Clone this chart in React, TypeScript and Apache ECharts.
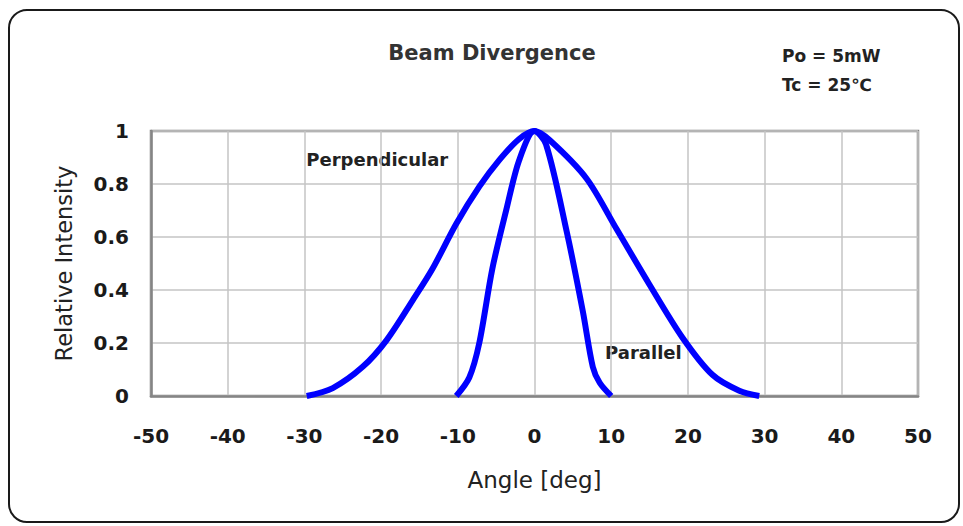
import React, { useEffect, useRef } from "react";
import * as echarts from "echarts";

const xTicks = { min: -50, max: 50, interval: 10 };
const yTicks = { min: 0, max: 1, interval: 0.2 };

const perpendicular: [number, number][] = [
  [-29.7, 0], [-26.3, 0.03], [-22.4, 0.11], [-19.3, 0.21], [-15.9, 0.36],
  [-13.3, 0.48], [-10.2, 0.65], [-7.2, 0.79], [-4.6, 0.89], [-2, 0.97],
  [0, 1], [2, 0.965], [6.8, 0.82], [10.7, 0.63], [15, 0.42], [19.3, 0.22],
  [23.2, 0.08], [26.7, 0.02], [29.3, 0],
];

const parallel: [number, number][] = [
  [-10.2, 0], [-8.5, 0.07], [-7.2, 0.2], [-5.5, 0.48], [-3.7, 0.7],
  [-2, 0.89], [0, 1], [1.5, 0.95], [4.2, 0.62], [6.3, 0.32], [7.6, 0.11],
  [8.5, 0.05], [10, 0],
];

const annotations = [
  { text: "Perpendicular", x: -20.5, y: 0.894 },
  { text: "Parallel", x: 14.2, y: 0.166 },
];

const title = "Beam Divergence";
const conditions = ["Po = 5mW", "Tc = 25℃"];
const xName = "Angle [deg]";
const yName = "Relative Intensity";

const FONT = "DejaVu Sans";

export default function App() {
  const ref = useRef<HTMLDivElement>(null);
  useEffect(() => {
    if (!ref.current) return;
    const chart = echarts.init(ref.current, undefined, { renderer: "svg" });
    const option: any = {
      animation: false,
      backgroundColor: "#ffffff",
      grid: {
        left: 151,
        right: 45,
        top: 131,
        bottom: 130,
        show: true,
        borderColor: "#858585",
        borderWidth: 2.5,
        backgroundColor: "transparent",
      },
      xAxis: {
        type: "value",
        min: xTicks.min,
        max: xTicks.max,
        interval: xTicks.interval,
        name: xName,
        nameLocation: "middle",
        nameGap: 72,
        nameTextStyle: { fontFamily: FONT, fontSize: 23, color: "#222" },
        axisLine: { show: true, onZero: false, lineStyle: { color: "#858585", width: 2.5 } },
        axisTick: { show: false },
        axisLabel: {
          fontFamily: FONT,
          fontSize: 20,
          fontWeight: "bold",
          color: "#1a1a1a",
          margin: 30,
        },
        splitLine: { show: true, lineStyle: { color: "#c4c4c4", width: 1.5 } },
      },
      yAxis: {
        type: "value",
        min: yTicks.min,
        max: yTicks.max,
        interval: yTicks.interval,
        name: yName,
        nameLocation: "middle",
        nameGap: 76,
        nameTextStyle: { fontFamily: FONT, fontSize: 22.5, color: "#222" },
        axisLine: { show: true, onZero: false, lineStyle: { color: "#858585", width: 2.5 } },
        axisTick: { show: false },
        axisLabel: {
          fontFamily: FONT,
          fontSize: 20,
          fontWeight: "bold",
          color: "#1a1a1a",
          margin: 22,
        },
        splitLine: { show: true, lineStyle: { color: "#c4c4c4", width: 1.5 } },
      },
      series: [
        {
          name: "Perpendicular",
          type: "line",
          data: perpendicular,
          smooth: 0.3,
          showSymbol: false,
          clip: false,
          lineStyle: { color: "#0000ff", width: 6 },
        },
        {
          name: "Parallel",
          type: "line",
          data: parallel,
          smooth: 0.3,
          showSymbol: false,
          clip: false,
          lineStyle: { color: "#0000ff", width: 6 },
        },
      ],
      graphic: [
        {
          type: "rect",
          shape: { x: 9, y: 10, width: 950, height: 512, r: 18 },
          style: { fill: "none", stroke: "#1a1a1a", lineWidth: 2 },
          silent: true,
        },
        {
          type: "text",
          x: 492,
          y: 53,
          style: {
            text: title,
            fontFamily: FONT,
            fontSize: 21,
            fontWeight: "bold",
            fill: "#333",
            align: "center",
            verticalAlign: "middle",
          },
        },
        ...conditions.map((t, i) => ({
          type: "text",
          x: 782,
          y: 56 + i * 29,
          style: {
            text: t,
            fontFamily: FONT,
            fontSize: 17,
            fontWeight: "bold",
            fill: "#222",
            align: "left",
            verticalAlign: "middle",
          },
        })),
      ],
    };
    chart.setOption(option);
    const annGraphics = annotations.map((a) => {
      const p = chart.convertToPixel({ gridIndex: 0 }, [a.x, a.y]) as number[];
      return {
        type: "text",
        x: p[0],
        y: p[1],
        style: {
          text: a.text,
          fontFamily: FONT,
          fontSize: 18,
          fontWeight: "bold",
          fill: "#222",
          align: "center",
          verticalAlign: "middle",
        },
      };
    });
    chart.setOption({ graphic: [...option.graphic, ...annGraphics] });
    return () => chart.dispose();
  }, []);
  return (
    <div
      ref={ref}
      style={{ position: "fixed", left: 0, top: 0, width: 963, height: 526, background: "#fff" }}
    />
  );
}
